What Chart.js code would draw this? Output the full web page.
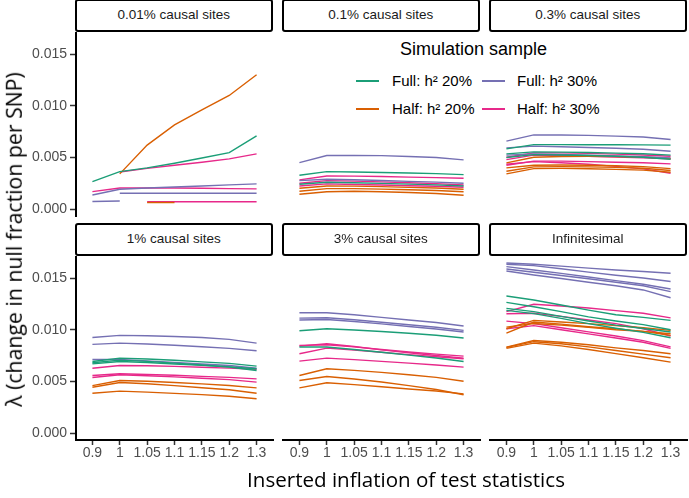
<!DOCTYPE html>
<html>
<head>
<meta charset="utf-8">
<script src="https://cdn.jsdelivr.net/npm/chart.js@4.4.1/dist/chart.umd.min.js"></script>
<style>
  body { margin: 0; background: #fff; width: 689px; height: 498px; position: relative; overflow: hidden;
         font-family: "Liberation Sans", Arial, sans-serif; }
  canvas { position: absolute; }
  .strip { position: absolute; box-sizing: border-box; border: 2.7px solid #000; border-radius: 3px;
           background: #fff; text-align: center; font-size: 13.5px; color: #1a1a1a; z-index: 2; }
  .title { position: absolute; font-family: "Open Sans", sans-serif; color: #000; white-space: nowrap; }
  .leg { position: absolute; font-size: 15px; color: #000; white-space: nowrap; }
  .key { position: absolute; height: 2px; width: 23px; }
</style>
</head>
<body>
<div id="legend"></div>
<script>
const inflation = ['0.9', '1', '1.05', '1.1', '1.15', '1.2', '1.3'];
const yTicks = [0, 0.005, 0.010, 0.015];
const panelTitles = ['0.01% causal sites', '0.1% causal sites', '0.3% causal sites',
                     '1% causal sites', '3% causal sites', 'Infinitesimal'];
const groups = ['Full: h\u00b2 20%', 'Full: h\u00b2 30%', 'Half: h\u00b2 20%', 'Half: h\u00b2 30%'];
const groupColors = ['#1B9E77', '#7570B3', '#D95F02', '#E7298A'];

// 0.01% causal sites
const c001_full20 = [[0.00267, 0.00364, 0.00400, 0.00445, 0.00495, 0.00548, 0.00710]];
const c001_full30 = [[0.00138, 0.00193, 0.00205, 0.00215, 0.00225, 0.00236, 0.00245],
                     [null, 0.00155, 0.00155, 0.00155, 0.00155, 0.00155, 0.00155],
                     [0.00075, 0.00080, null, null, null, null, null]];
const c001_half20 = [[null, 0.00342, 0.00620, 0.00815, 0.00960, 0.01100, 0.01300],
                     [null, null, 0.00065, 0.00065, null, null, null]];
const c001_half30 = [[null, 0.00360, 0.00395, 0.00425, 0.00455, 0.00487, 0.00535],
                     [0.00170, 0.00205, 0.00205, 0.00205, 0.00203, 0.00200, 0.00197],
                     [null, null, 0.00072, 0.00072, 0.00072, 0.00072, 0.00072]];

// 0.1% causal sites
const c01_full20 = [[0.00329, 0.00364, 0.00360, 0.00355, 0.00350, 0.00344, 0.00335],
                    [0.00242, 0.00261, 0.00257, 0.00250, 0.00243, 0.00236, 0.00225]];
const c01_full30 = [[0.00451, 0.00519, 0.00520, 0.00518, 0.00510, 0.00500, 0.00477],
                    [0.00277, 0.00290, 0.00285, 0.00278, 0.00270, 0.00262, 0.00252]];
const c01_half20 = [[0.00203, 0.00225, 0.00224, 0.00219, 0.00212, 0.00205, 0.00194],
                    [0.00174, 0.00200, 0.00200, 0.00195, 0.00188, 0.00181, 0.00170],
                    [0.00145, 0.00170, 0.00174, 0.00170, 0.00162, 0.00153, 0.00136]];
const c01_half30 = [[0.00284, 0.00322, 0.00320, 0.00316, 0.00311, 0.00306, 0.00300],
                    [0.00252, 0.00277, 0.00272, 0.00265, 0.00257, 0.00248, 0.00235],
                    [0.00225, 0.00245, 0.00240, 0.00234, 0.00228, 0.00222, 0.00213]];

// 0.3% causal sites
const c03_full20 = [[0.00584, 0.00625, 0.00625, 0.00624, 0.00623, 0.00622, 0.00620],
                    [0.00535, 0.00555, 0.00552, 0.00548, 0.00543, 0.00537, 0.00523],
                    [0.00500, 0.00528, 0.00525, 0.00520, 0.00512, 0.00503, 0.00484]];
const c03_full30 = [[0.00658, 0.00719, 0.00718, 0.00714, 0.00707, 0.00698, 0.00674],
                    [0.00593, 0.00610, 0.00604, 0.00597, 0.00589, 0.00580, 0.00561],
                    [0.00523, 0.00535, 0.00530, 0.00523, 0.00515, 0.00508, 0.00497]];
const c03_half20 = [[0.00448, 0.00503, 0.00510, 0.00512, 0.00510, 0.00505, 0.00490],
                    [0.00400, 0.00426, 0.00428, 0.00425, 0.00420, 0.00412, 0.00393],
                    [0.00368, 0.00410, 0.00412, 0.00410, 0.00405, 0.00397, 0.00374],
                    [0.00342, 0.00393, 0.00395, 0.00392, 0.00386, 0.00378, 0.00358]];
const c03_half30 = [[0.00503, 0.00545, 0.00545, 0.00540, 0.00533, 0.00525, 0.00513],
                    [0.00480, 0.00523, 0.00520, 0.00513, 0.00505, 0.00497, 0.00487],
                    [0.00426, 0.00465, 0.00465, 0.00460, 0.00455, 0.00450, 0.00439],
                    [0.00435, 0.00460, 0.00450, 0.00435, 0.00415, 0.00390, 0.00348]];

// 1% causal sites
const c1_full20 = [[0.00694, 0.00726, 0.00717, 0.00705, 0.00690, 0.00675, 0.00649],
                   [0.00681, 0.00707, 0.00695, 0.00678, 0.00660, 0.00640, 0.00607],
                   [0.00671, 0.00694, 0.00684, 0.00670, 0.00656, 0.00642, 0.00623]];
const c1_full30 = [[0.00926, 0.00946, 0.00942, 0.00935, 0.00925, 0.00907, 0.00871],
                   [0.00859, 0.00871, 0.00862, 0.00850, 0.00836, 0.00820, 0.00798],
                   [0.00713, 0.00713, 0.00700, 0.00685, 0.00670, 0.00655, 0.00629]];
const c1_half20 = [[0.00460, 0.00510, 0.00502, 0.00490, 0.00477, 0.00462, 0.00439],
                   [0.00445, 0.00490, 0.00478, 0.00460, 0.00440, 0.00420, 0.00387],
                   [0.00387, 0.00407, 0.00398, 0.00386, 0.00373, 0.00358, 0.00333]];
const c1_half30 = [[0.00629, 0.00655, 0.00652, 0.00646, 0.00638, 0.00630, 0.00617],
                   [0.00558, 0.00575, 0.00568, 0.00560, 0.00550, 0.00540, 0.00526],
                   [0.00539, 0.00565, 0.00556, 0.00545, 0.00532, 0.00518, 0.00494]];

// 3% causal sites
const c3_full20 = [[0.00991, 0.01010, 0.00998, 0.00983, 0.00966, 0.00947, 0.00920],
                   [0.00833, 0.00833, 0.00810, 0.00783, 0.00755, 0.00728, 0.00694]];
const c3_full30 = [[0.01165, 0.01165, 0.01145, 0.01120, 0.01095, 0.01070, 0.01036],
                   [0.01113, 0.01117, 0.01097, 0.01073, 0.01048, 0.01024, 0.00994],
                   [0.01094, 0.01100, 0.01080, 0.01057, 0.01032, 0.01008, 0.00978]];
const c3_half20 = [[0.00558, 0.00623, 0.00608, 0.00588, 0.00565, 0.00540, 0.00503],
                   [0.00510, 0.00549, 0.00525, 0.00495, 0.00460, 0.00423, 0.00372],
                   [0.00439, 0.00488, 0.00470, 0.00450, 0.00428, 0.00408, 0.00381]];
const c3_half30 = [[0.00849, 0.00856, 0.00835, 0.00810, 0.00785, 0.00765, 0.00745],
                   [0.00769, 0.00823, 0.00805, 0.00783, 0.00760, 0.00740, 0.00720],
                   [0.00842, 0.00865, 0.00838, 0.00806, 0.00778, 0.00752, 0.00726],
                   [0.00697, 0.00726, 0.00712, 0.00695, 0.00678, 0.00660, 0.00639]];

// Infinitesimal
const inf_full20 = [[0.01326, 0.01288, 0.01240, 0.01190, 0.01145, 0.01120, 0.01091],
                    [0.01265, 0.01223, 0.01175, 0.01125, 0.01085, 0.01050, 0.01000],
                    [0.01207, 0.01175, 0.01130, 0.01085, 0.01045, 0.01012, 0.00978],
                    [0.01188, 0.01156, 0.01110, 0.01060, 0.01015, 0.00975, 0.00923]];
const inf_full30 = [[0.01646, 0.01633, 0.01615, 0.01596, 0.01578, 0.01563, 0.01546],
                    [0.01633, 0.01620, 0.01590, 0.01557, 0.01527, 0.01500, 0.01466],
                    [0.01610, 0.01578, 0.01545, 0.01510, 0.01475, 0.01440, 0.01394],
                    [0.01588, 0.01556, 0.01525, 0.01493, 0.01460, 0.01425, 0.01369],
                    [0.01568, 0.01530, 0.01495, 0.01460, 0.01425, 0.01385, 0.01310]];
const inf_half20 = [[0.01010, 0.01091, 0.01075, 0.01060, 0.01040, 0.01020, 0.00994],
                    [0.01026, 0.01060, 0.01045, 0.01025, 0.01000, 0.00985, 0.00962],
                    [0.00968, 0.01075, 0.01055, 0.01030, 0.01010, 0.00985, 0.00946],
                    [0.00833, 0.00897, 0.00880, 0.00855, 0.00825, 0.00800, 0.00769],
                    [0.00830, 0.00885, 0.00865, 0.00835, 0.00800, 0.00765, 0.00730],
                    [0.00820, 0.00871, 0.00845, 0.00810, 0.00770, 0.00730, 0.00687]];
const inf_half30 = [[0.01175, 0.01246, 0.01230, 0.01210, 0.01185, 0.01160, 0.01115],
                    [0.01155, 0.01160, 0.01130, 0.01095, 0.01060, 0.01010, 0.00940],
                    [0.01084, 0.01060, 0.01020, 0.00980, 0.00940, 0.00895, 0.00835],
                    [0.01010, 0.01040, 0.01000, 0.00960, 0.00920, 0.00880, 0.00820]];

const panels = [
  [c001_full20, c001_full30, c001_half20, c001_half30],
  [c01_full20, c01_full30, c01_half20, c01_half30],
  [c03_full20, c03_full30, c03_half20, c03_half30],
  [c1_full20, c1_full30, c1_half20, c1_half30],
  [c3_full20, c3_full30, c3_half20, c3_half30],
  [inf_full20, inf_full30, inf_half20, inf_half30]
];

const plotLefts = [76, 283, 490];
const plotTops = [32, 256];
const plotW = 197, plotH = 184;
const tickFont = { family: '"Liberation Sans", Arial, sans-serif', size: 14 };

// fixed axis sizes and no label overhang, so every plot area lines up
function fixSize(s, w, h) {
  if (w !== null) s.width = w;
  if (h !== null) s.height = h;
  s.paddingTop = 0; s.paddingBottom = 0; s.paddingLeft = 0; s.paddingRight = 0;
}

function drawPanel(idx) {
  const col = idx % 3, row = Math.floor(idx / 3);

  const strip = document.createElement('div');
  strip.className = 'strip';
  strip.style.left = (plotLefts[col] - 1.5) + 'px';
  strip.style.top = (row === 0 ? -1 : 223) + 'px';
  strip.style.width = (plotW + 1.5) + 'px';
  strip.style.height = '33px';
  strip.style.lineHeight = '27.6px';
  strip.textContent = panelTitles[idx];
  document.body.appendChild(strip);

  const canvas = document.createElement('canvas');
  canvas.width = 76 + plotW + 2;
  canvas.height = plotH + 60;
  canvas.style.left = (plotLefts[col] - 76) + 'px';
  canvas.style.top = plotTops[row] + 'px';
  document.body.appendChild(canvas);

  const datasets = [];
  panels[idx].forEach((lines, g) => {
    lines.forEach(vals => {
      datasets.push({
        label: groups[g],
        data: vals.map((v, i) => ({ x: i, y: v })),
        borderColor: groupColors[g],
        borderWidth: 1.4,
        pointRadius: 0,
        tension: 0,
        spanGaps: false
      });
    });
  });

  new Chart(canvas.getContext('2d'), {
    type: 'line',
    data: { datasets: datasets },
    options: {
      responsive: false,
      animation: false,
      layout: { padding: { left: 0, right: 2, top: 0, bottom: 0 } },
      plugins: { legend: { display: false }, tooltip: { enabled: false } },
      scales: {
        x: {
          type: 'linear', min: -0.6, max: 6.6, display: row === 1,
          afterBuildTicks: s => { s.ticks = inflation.map((_, i) => ({ value: i })); },
          afterFit: s => fixSize(s, null, 60),
          ticks: { autoSkip: false, maxRotation: 0, color: '#4d4d4d', font: tickFont, padding: 0,
                   callback: v => inflation[v] },
          grid: { drawOnChartArea: false, drawTicks: true, tickLength: 5, tickColor: '#333', tickWidth: 1.5 },
          border: { display: true, color: '#000', width: 2 }
        },
        y: {
          min: -0.00065, max: 0.01713, display: col === 0,
          afterBuildTicks: s => { s.ticks = yTicks.map(v => ({ value: v })); },
          afterFit: s => fixSize(s, 76, null),
          ticks: { color: '#4d4d4d', font: tickFont, padding: 3, callback: v => v.toFixed(3) },
          grid: { drawOnChartArea: false, drawTicks: true, tickLength: 6, tickColor: '#333', tickWidth: 1.5 },
          border: { display: true, color: '#000', width: 2 }
        }
      }
    }
  });
}

panelTitles.forEach((_, i) => drawPanel(i));

// axis titles
function addTitle(text, width, cx, cy, rotate) {
  const el = document.createElement('div');
  el.className = 'title';
  el.textContent = text;
  el.style.fontSize = '20px';
  document.body.appendChild(el);
  const w = el.getBoundingClientRect().width;
  el.style.fontSize = (20 * width / w) + 'px';
  const r = el.getBoundingClientRect();
  el.style.left = (cx - r.width / 2) + 'px';
  el.style.top = (cy - r.height / 2) + 'px';
  if (rotate) el.style.transform = 'rotate(-90deg)';
}
addTitle('Inserted inflation of test statistics', 318, 406, 479, false);
addTitle('\u03bb (change in null fraction per SNP)', 335, 13, 239, true);

// legend: columns are h2 20% / 30%, rows are Full / Half
const legend = document.getElementById('legend');
const legTitle = document.createElement('div');
legTitle.className = 'leg';
legTitle.style.fontSize = '18px';
legTitle.style.left = '400px';
legTitle.style.top = '39px';
legTitle.textContent = 'Simulation sample';
legend.appendChild(legTitle);
const keyX = [356, 482], textX = [392, 517], rowY = [81, 109];
groups.forEach((g, i) => {
  const colIdx = i % 2;
  const rowIdx = i < 2 ? 0 : 1;
  const key = document.createElement('div');
  key.className = 'key';
  key.style.background = groupColors[i];
  key.style.left = keyX[colIdx] + 'px';
  key.style.top = (rowY[rowIdx] - 1) + 'px';
  legend.appendChild(key);
  const t = document.createElement('div');
  t.className = 'leg';
  t.style.left = textX[colIdx] + 'px';
  t.style.top = (rowY[rowIdx] - 9) + 'px';
  t.textContent = g;
  legend.appendChild(t);
});
</script>
</body>
</html>
